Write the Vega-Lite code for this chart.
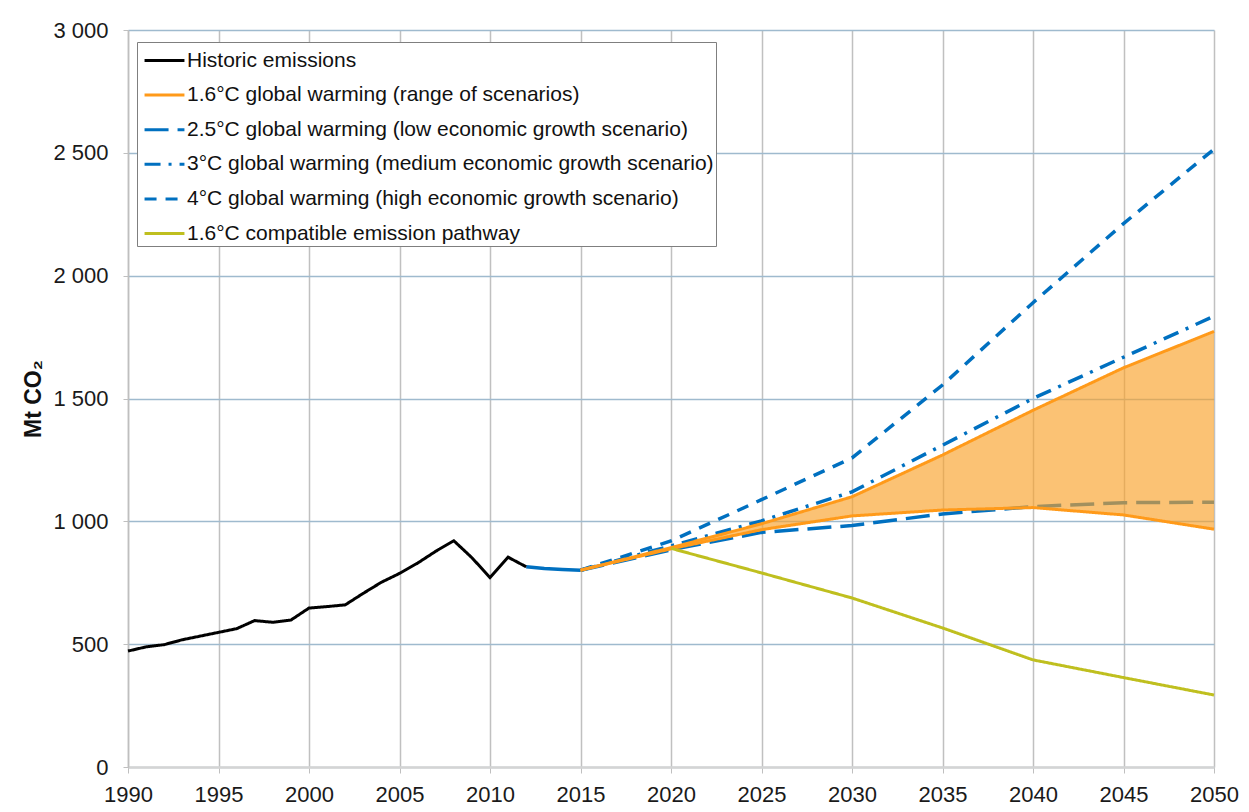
{
  "$schema": "https://vega.github.io/schema/vega-lite/v6.json",
  "width": 1086,
  "height": 737,
  "autosize": {"type": "none"},
  "padding": {"left": 128, "top": 30, "right": 35, "bottom": 45},
  "background": "white",
  "config": {
    "font": "Liberation Sans",
    "view": {"stroke": null},
    "legend": {
      "orient": "none",
      "legendX": 9,
      "legendY": 12,
      "strokeColor": "#7f7f7f",
      "fillColor": "white",
      "padding": 2,
      "symbolType": "M-0.73,0H1.93",
      "symbolSize": 900,
      "symbolStrokeWidth": 3,
      "labelFontSize": 21,
      "labelColor": "#111111",
      "labelOffset": 15,
      "rowPadding": 7.6,
      "labelLimit": 0,
      "title": null
    }
  },
  "datasets": {
    "lines": [
      {"series": "Historic emissions", "part": "h", "year": 1990, "value": 472},
      {"series": "Historic emissions", "part": "h", "year": 1991, "value": 489},
      {"series": "Historic emissions", "part": "h", "year": 1992, "value": 498},
      {"series": "Historic emissions", "part": "h", "year": 1993, "value": 518},
      {"series": "Historic emissions", "part": "h", "year": 1994, "value": 533},
      {"series": "Historic emissions", "part": "h", "year": 1995, "value": 548},
      {"series": "Historic emissions", "part": "h", "year": 1996, "value": 563},
      {"series": "Historic emissions", "part": "h", "year": 1997, "value": 596},
      {"series": "Historic emissions", "part": "h", "year": 1998, "value": 589},
      {"series": "Historic emissions", "part": "h", "year": 1999, "value": 598},
      {"series": "Historic emissions", "part": "h", "year": 2000, "value": 647},
      {"series": "Historic emissions", "part": "h", "year": 2001, "value": 653},
      {"series": "Historic emissions", "part": "h", "year": 2002, "value": 660},
      {"series": "Historic emissions", "part": "h", "year": 2003, "value": 707},
      {"series": "Historic emissions", "part": "h", "year": 2004, "value": 752},
      {"series": "Historic emissions", "part": "h", "year": 2005, "value": 788},
      {"series": "Historic emissions", "part": "h", "year": 2006, "value": 830},
      {"series": "Historic emissions", "part": "h", "year": 2007, "value": 878},
      {"series": "Historic emissions", "part": "h", "year": 2008, "value": 921},
      {"series": "Historic emissions", "part": "h", "year": 2009, "value": 852},
      {"series": "Historic emissions", "part": "h", "year": 2010, "value": 771},
      {"series": "Historic emissions", "part": "h", "year": 2011, "value": 854},
      {"series": "Historic emissions", "part": "h", "year": 2012, "value": 815},

      {"series": "1.6°C global warming (range of scenarios)", "part": "upper", "year": 2015, "value": 801},
      {"series": "1.6°C global warming (range of scenarios)", "part": "upper", "year": 2020, "value": 893},
      {"series": "1.6°C global warming (range of scenarios)", "part": "upper", "year": 2025, "value": 990},
      {"series": "1.6°C global warming (range of scenarios)", "part": "upper", "year": 2030, "value": 1100},
      {"series": "1.6°C global warming (range of scenarios)", "part": "upper", "year": 2035, "value": 1270},
      {"series": "1.6°C global warming (range of scenarios)", "part": "upper", "year": 2040, "value": 1452},
      {"series": "1.6°C global warming (range of scenarios)", "part": "upper", "year": 2045, "value": 1625},
      {"series": "1.6°C global warming (range of scenarios)", "part": "upper", "year": 2050, "value": 1773},
      {"series": "1.6°C global warming (range of scenarios)", "part": "lower", "year": 2015, "value": 801},
      {"series": "1.6°C global warming (range of scenarios)", "part": "lower", "year": 2020, "value": 888},
      {"series": "1.6°C global warming (range of scenarios)", "part": "lower", "year": 2025, "value": 966},
      {"series": "1.6°C global warming (range of scenarios)", "part": "lower", "year": 2030, "value": 1022},
      {"series": "1.6°C global warming (range of scenarios)", "part": "lower", "year": 2035, "value": 1046},
      {"series": "1.6°C global warming (range of scenarios)", "part": "lower", "year": 2040, "value": 1056},
      {"series": "1.6°C global warming (range of scenarios)", "part": "lower", "year": 2045, "value": 1026},
      {"series": "1.6°C global warming (range of scenarios)", "part": "lower", "year": 2050, "value": 968},

      {"series": "2.5°C global warming (low economic growth scenario)", "part": "l", "year": 2015, "value": 801},
      {"series": "2.5°C global warming (low economic growth scenario)", "part": "l", "year": 2020, "value": 884},
      {"series": "2.5°C global warming (low economic growth scenario)", "part": "l", "year": 2025, "value": 955},
      {"series": "2.5°C global warming (low economic growth scenario)", "part": "l", "year": 2030, "value": 983},
      {"series": "2.5°C global warming (low economic growth scenario)", "part": "l", "year": 2035, "value": 1030},
      {"series": "2.5°C global warming (low economic growth scenario)", "part": "l", "year": 2040, "value": 1060},
      {"series": "2.5°C global warming (low economic growth scenario)", "part": "l", "year": 2045, "value": 1076},
      {"series": "2.5°C global warming (low economic growth scenario)", "part": "l", "year": 2050, "value": 1078},

      {"series": "3°C global warming (medium economic growth scenario)", "part": "m", "year": 2015, "value": 801},
      {"series": "3°C global warming (medium economic growth scenario)", "part": "m", "year": 2020, "value": 900},
      {"series": "3°C global warming (medium economic growth scenario)", "part": "m", "year": 2025, "value": 1002},
      {"series": "3°C global warming (medium economic growth scenario)", "part": "m", "year": 2030, "value": 1120},
      {"series": "3°C global warming (medium economic growth scenario)", "part": "m", "year": 2035, "value": 1310},
      {"series": "3°C global warming (medium economic growth scenario)", "part": "m", "year": 2040, "value": 1500},
      {"series": "3°C global warming (medium economic growth scenario)", "part": "m", "year": 2045, "value": 1668},
      {"series": "3°C global warming (medium economic growth scenario)", "part": "m", "year": 2050, "value": 1835},

      {"series": "4°C global warming (high economic growth scenario)", "part": "hi", "year": 2015, "value": 801},
      {"series": "4°C global warming (high economic growth scenario)", "part": "hi", "year": 2020, "value": 920},
      {"series": "4°C global warming (high economic growth scenario)", "part": "hi", "year": 2025, "value": 1088},
      {"series": "4°C global warming (high economic growth scenario)", "part": "hi", "year": 2030, "value": 1258},
      {"series": "4°C global warming (high economic growth scenario)", "part": "hi", "year": 2035, "value": 1555},
      {"series": "4°C global warming (high economic growth scenario)", "part": "hi", "year": 2040, "value": 1890},
      {"series": "4°C global warming (high economic growth scenario)", "part": "hi", "year": 2045, "value": 2212},
      {"series": "4°C global warming (high economic growth scenario)", "part": "hi", "year": 2050, "value": 2515},

      {"series": "1.6°C compatible emission pathway", "part": "c", "year": 2020, "value": 890},
      {"series": "1.6°C compatible emission pathway", "part": "c", "year": 2025, "value": 790},
      {"series": "1.6°C compatible emission pathway", "part": "c", "year": 2030, "value": 688},
      {"series": "1.6°C compatible emission pathway", "part": "c", "year": 2035, "value": 566},
      {"series": "1.6°C compatible emission pathway", "part": "c", "year": 2040, "value": 436},
      {"series": "1.6°C compatible emission pathway", "part": "c", "year": 2045, "value": 364},
      {"series": "1.6°C compatible emission pathway", "part": "c", "year": 2050, "value": 293}
    ],
    "bridge": [
      {"year": 2012, "value": 815},
      {"year": 2013, "value": 808},
      {"year": 2014, "value": 804},
      {"year": 2015, "value": 801}
    ],
    "band": [
      {"year": 2015, "lo": 801, "hi": 801},
      {"year": 2020, "lo": 888, "hi": 893},
      {"year": 2025, "lo": 966, "hi": 990},
      {"year": 2030, "lo": 1022, "hi": 1100},
      {"year": 2035, "lo": 1046, "hi": 1270},
      {"year": 2040, "lo": 1056, "hi": 1452},
      {"year": 2045, "lo": 1026, "hi": 1625},
      {"year": 2050, "lo": 968, "hi": 1773}
    ]
  },
  "encoding": {
    "x": {
      "field": "year",
      "type": "quantitative",
      "scale": {"domain": [1990, 2050], "nice": false, "zero": false},
      "axis": {
        "title": null,
        "values": [1990, 1995, 2000, 2005, 2010, 2015, 2020, 2025, 2030, 2035, 2040, 2045, 2050],
        "format": "d",
        "labelFontSize": 22,
        "labelColor": "#1a1a1a",
        "labelPadding": 11,
        "tickSize": 6,
        "tickColor": "#bfbfbf",
        "domainColor": "#d4d4d4",
        "domainWidth": 2.5,
        "grid": true,
        "gridColor": "#c0c0c0",
        "gridWidth": 1.5,
        "labelFlush": false
      }
    },
    "y": {
      "field": "value",
      "type": "quantitative",
      "scale": {"domain": [0, 3000], "nice": false},
      "axis": {
        "title": "Mt CO₂",
        "titleFontSize": 23,
        "titleFontWeight": "bold",
        "titleColor": "#111111",
        "titlePadding": 7,
        "values": [0, 500, 1000, 1500, 2000, 2500, 3000],
        "labelExpr": "replace(format(datum.value, ','), ',', ' ')",
        "labelFontSize": 22,
        "labelColor": "#1a1a1a",
        "labelPadding": 15,
        "tickSize": 5,
        "tickColor": "#bfbfbf",
        "domainColor": "#bfbfbf",
        "domainWidth": 1.5,
        "grid": true,
        "gridColor": "#9fbace",
        "gridWidth": 1.5,
        "labelFlush": false
      }
    }
  },
  "layer": [
    {
      "data": {"name": "bridge"},
      "mark": {"type": "line", "color": "#0070c0", "strokeWidth": 3.5},
      "encoding": {}
    },
    {
      "data": {"name": "lines"},
      "transform": [
        {"filter": "indexof(datum.series, 'economic growth') >= 0"}
      ],
      "mark": {"type": "line", "strokeWidth": 3.5},
      "encoding": {
        "color": {
          "field": "series",
          "type": "nominal",
          "scale": {
            "domain": [
              "Historic emissions",
              "1.6°C global warming (range of scenarios)",
              "2.5°C global warming (low economic growth scenario)",
              "3°C global warming (medium economic growth scenario)",
              "4°C global warming (high economic growth scenario)",
              "1.6°C compatible emission pathway"
            ],
            "range": ["#000000", "#ff9a1a", "#0070c0", "#0070c0", "#0070c0", "#bfbf1f"]
          }
        },
        "strokeDash": {
          "field": "series",
          "type": "nominal",
          "scale": {
            "domain": [
              "Historic emissions",
              "1.6°C global warming (range of scenarios)",
              "2.5°C global warming (low economic growth scenario)",
              "3°C global warming (medium economic growth scenario)",
              "4°C global warming (high economic growth scenario)",
              "1.6°C compatible emission pathway"
            ],
            "range": [[1, 0], [1, 0], [24, 9], [16, 8, 3, 8], [12, 9], [1, 0]]
          }
        },
        "detail": {"field": "part"}
      }
    },
    {
      "data": {"name": "band"},
      "mark": {"type": "area", "color": "#f9a12a", "opacity": 0.65},
      "encoding": {
        "y": {"field": "lo", "type": "quantitative"},
        "y2": {"field": "hi"}
      }
    },
    {
      "data": {"name": "lines"},
      "transform": [
        {"filter": "indexof(datum.series, 'economic growth') < 0"}
      ],
      "mark": {"type": "line", "strokeWidth": 3},
      "encoding": {
        "color": {"field": "series", "type": "nominal"},
        "strokeDash": {"field": "series", "type": "nominal"},
        "detail": {"field": "part"}
      }
    }
  ]
}
